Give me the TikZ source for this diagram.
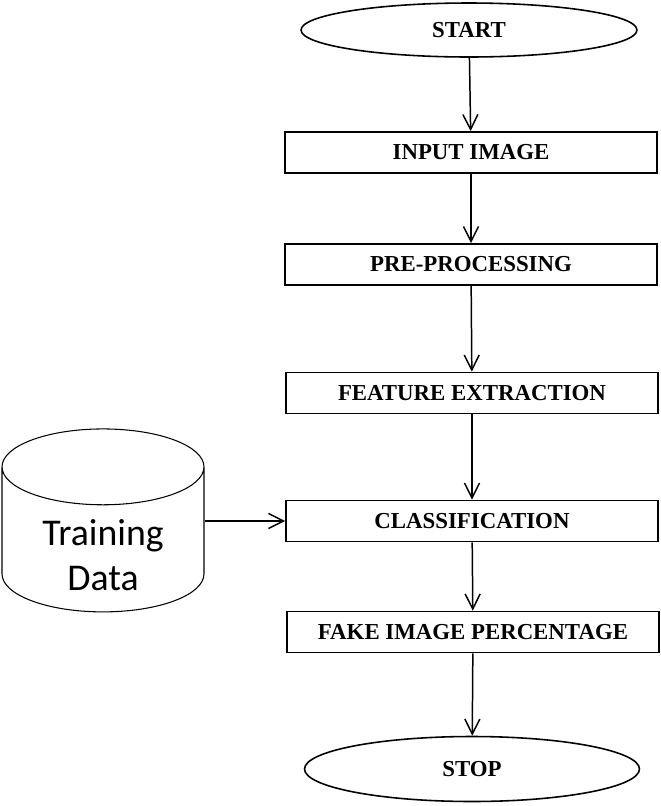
\documentclass[tikz,border=0pt]{standalone}
\usepackage{fontspec}
\setmainfont{Liberation Serif}
\newfontfamily\carlito{Carlito}
\usetikzlibrary{arrows.meta,shapes.geometric}

\begin{document}
\begin{tikzpicture}[>={Straight Barb[length=3mm,width=3mm]}, x=0.02cm, y=-0.02cm,
  box/.style={draw,line width=1pt,minimum width=7.44cm,minimum height=0.82cm,font=\fontsize{13}{15}\selectfont\bfseries},
  term/.style={draw,ellipse,line width=0.9pt,font=\fontsize{13}{15}\selectfont\bfseries},
  flow/.style={->,line width=0.85pt}]
  \useasboundingbox (0,0) rectangle (661,806);
  \node[term,minimum width=6.72cm,minimum height=1.08cm](st) at (469,30){START};
  \node[box](in) at (471,152.5){INPUT IMAGE};
  \node[box](pre) at (471,264.5){PRE-PROCESSING};
  \node[box](fe) at (472,393){FEATURE EXTRACTION};
  \node[box](cls) at (472,521){CLASSIFICATION};
  \node[box](fk) at (473,632){FAKE IMAGE PERCENTAGE};
  \node[term,minimum width=6.7cm,minimum height=1.3cm](sp) at (472,769){STOP};
  % text sits low in the body, below the top cap
  \node[draw,cylinder,shape border rotate=90,aspect=0.57,minimum width=4.04cm,minimum height=3.66cm,
    line width=0.6pt,font=\carlito\fontsize{21.5}{26}\selectfont](td) at (103,546)
    {\raisebox{-12.5pt}[0pt][0pt]{\begin{tabular}{@{}c@{}}Training\\Data\end{tabular}}};
  \draw[flow] (st) -- (in);
  \draw[flow] (in) -- (pre);
  \draw[flow] (pre) -- (fe);
  \draw[flow] (fe) -- (cls);
  \draw[flow] (cls) -- (fk);
  \draw[flow] (fk) -- (sp);
  \draw[flow] (td.east |- cls.west) -- (cls.west);
\end{tikzpicture}
\end{document}
